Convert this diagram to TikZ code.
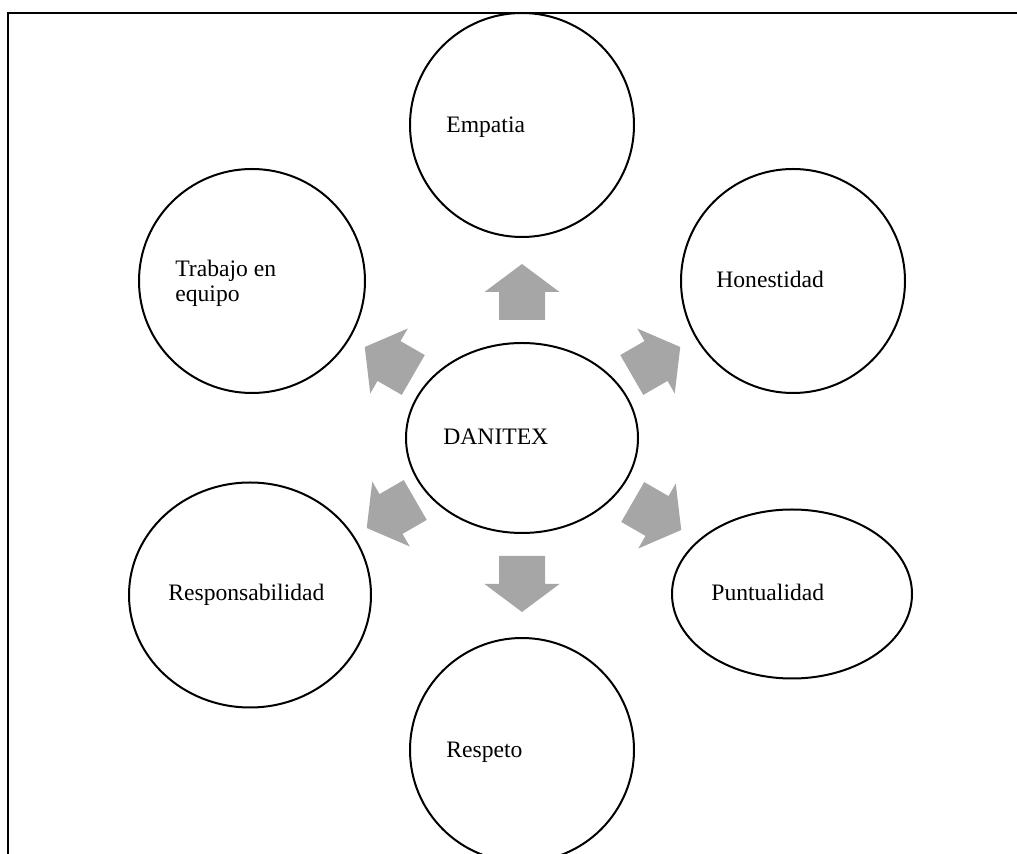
\documentclass[tikz,border=0pt]{standalone}
\usepackage{fontspec}
\setmainfont{Liberation Serif}
\usepackage{tikz}
\usetikzlibrary{shapes.geometric}
\definecolor{arrowgray}{RGB}{166,166,166}

\begin{document}
\begin{tikzpicture}[x=0.5pt, y=-0.5pt,
    value/.style={ellipse, draw=black, line width=1pt, inner sep=0pt},
    txt/.style={anchor=base west, inner sep=0pt, font=\fontsize{11.8}{12.5}\selectfont},
    blockarrow/.style={fill=arrowgray}]
\useasboundingbox (0,0) rectangle (1017,854);
% only the top and left edge of the frame are drawn
\draw[line width=0.75pt] (8,854) -- (8,13) -- (1017,13);

\node[value, minimum width=116pt, minimum height=95pt] (danitex) at (522,438) {};
\node[value, minimum width=112pt, minimum height=112pt] (empatia) at (522,125) {};
\node[value, minimum width=113pt, minimum height=112pt] (trabajo) at (252,281) {};
\node[value, minimum width=112pt, minimum height=112pt] (honestidad) at (793,281) {};
\node[value, minimum width=121pt, minimum height=112.5pt] (responsabilidad) at (250,595) {};
\node[value, minimum width=120pt, minimum height=84.5pt] (puntualidad) at (792,594) {};
\node[value, minimum width=112pt, minimum height=112pt] (respeto) at (522,750) {};

\node[txt] (danitex-t) at (443,445) {DANITEX};
\node[txt] (empatia-t) at (446,133) {Empatia};
% base of a two line node sits on the last line
\node[txt, align=left] (trabajo-t) at (175,302) {Trabajo en\\equipo};
\node[txt] (honestidad-t) at (716,288) {Honestidad};
\node[txt] (responsabilidad-t) at (168,601) {Responsabilidad};
\node[txt] (puntualidad-t) at (711,601) {Puntualidad};
\node[txt] (respeto-t) at (446,757) {Respeto};

% block arrows, origin at the middle of the head base
\fill[blockarrow, shift={(522,292)}, rotate=90]
    (-28,-23) -- (0,-23) -- (0,-37.5) -- (28,0) -- (0,37.5) -- (0,23) -- (-28,23) -- cycle;
\fill[blockarrow, shift={(656,361)}, rotate=30]
    (-28,-23) -- (0,-23) -- (0,-37.5) -- (28,0) -- (0,37.5) -- (0,23) -- (-28,23) -- cycle;
\fill[blockarrow, shift={(657,516)}, rotate=-30]
    (-28,-23) -- (0,-23) -- (0,-37.5) -- (28,0) -- (0,37.5) -- (0,23) -- (-28,23) -- cycle;
\fill[blockarrow, shift={(522,584)}, rotate=-90]
    (-28,-23) -- (0,-23) -- (0,-37.5) -- (28,0) -- (0,37.5) -- (0,23) -- (-28,23) -- cycle;
\fill[blockarrow, shift={(391,514)}, rotate=-150]
    (-28,-23) -- (0,-23) -- (0,-37.5) -- (28,0) -- (0,37.5) -- (0,23) -- (-28,23) -- cycle;
\fill[blockarrow, shift={(389,361)}, rotate=150]
    (-28,-23) -- (0,-23) -- (0,-37.5) -- (28,0) -- (0,37.5) -- (0,23) -- (-28,23) -- cycle;
\end{tikzpicture}
\end{document}
